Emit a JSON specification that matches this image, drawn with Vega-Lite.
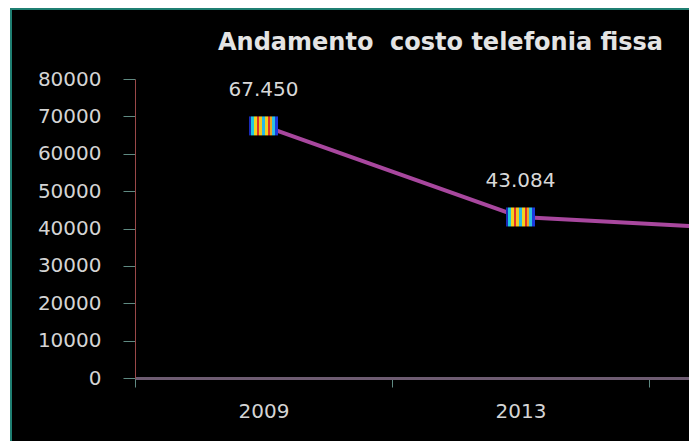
{
  "$schema": "https://vega.github.io/schema/vega-lite/v6.json",
  "autosize": {"type": "none"},
  "padding": {"left": 11, "top": 9, "right": 0, "bottom": 0},
  "width": 684,
  "height": 436,
  "background": "white",
  "title": {
    "text": "Andamento\u00a0 costo telefonia fissa",
    "anchor": "start",
    "frame": "group",
    "dx": 207,
    "offset": -65,
    "baseline": "alphabetic",
    "font": "DejaVu Sans",
    "fontSize": 24,
    "fontWeight": "bold",
    "color": "#e4e4e4"
  },
  "data": {
    "values": [
      {"anno": "2009", "costo": 67450},
      {"anno": "2013", "costo": 43084},
      {"anno": "2016", "costo": 39400}
    ]
  },
  "encoding": {
    "x": {
      "field": "anno",
      "type": "ordinal",
      "sort": null,
      "scale": {"type": "band", "range": [124, 895], "paddingInner": 0, "paddingOuter": 0},
      "axis": {
        "orient": "bottom",
        "offset": -67,
        "tickBand": "extent",
        "tickSize": 9,
        "tickColor": "#5f8a82",
        "domainColor": "#6e5c72",
        "domainWidth": 3,
        "labelPadding": 14,
        "labelAngle": 0,
        "labelFont": "DejaVu Sans",
        "labelFontSize": 20,
        "labelColor": "#d4d4d4",
        "title": null,
        "grid": false
      }
    },
    "y": {
      "field": "costo",
      "type": "quantitative",
      "scale": {"domain": [0, 80000], "range": [369, 70], "nice": false},
      "axis": {
        "orient": "left",
        "offset": -124,
        "values": [0, 10000, 20000, 30000, 40000, 50000, 60000, 70000, 80000],
        "format": "d",
        "tickSize": 12,
        "tickColor": "#5f8a82",
        "domainColor": "#9a4848",
        "domainWidth": 1,
        "labelPadding": 22,
        "labelFont": "DejaVu Sans",
        "labelFontSize": 20,
        "labelColor": "#d4d4d4",
        "title": null,
        "grid": false
      }
    }
  },
  "layer": [
    {"mark": {"type": "line", "color": "#a8479e", "strokeWidth": 4}},
    {
      "mark": {
        "type": "point",
        "shape": "M-1,-0.655L1,-0.655L1,0.655L-1,0.655Z",
        "size": 841,
        "filled": true,
        "opacity": 1,
        "strokeWidth": 0,
        "fill": {
          "gradient": "linear",
          "x1": 0, "x2": 1, "y1": 0, "y2": 0,
          "stops": [
            {"offset": 0, "color": "#1a2ab8"},
            {"offset": 0.08, "color": "#1a2ab8"},
            {"offset": 0.08, "color": "#20c8e0"},
            {"offset": 0.18, "color": "#20c8e0"},
            {"offset": 0.18, "color": "#f2d21e"},
            {"offset": 0.28, "color": "#f2d21e"},
            {"offset": 0.28, "color": "#e0302a"},
            {"offset": 0.36, "color": "#e0302a"},
            {"offset": 0.36, "color": "#f2c81e"},
            {"offset": 0.46, "color": "#f2c81e"},
            {"offset": 0.46, "color": "#28b8e8"},
            {"offset": 0.54, "color": "#28b8e8"},
            {"offset": 0.54, "color": "#f2d21e"},
            {"offset": 0.64, "color": "#f2d21e"},
            {"offset": 0.64, "color": "#e0302a"},
            {"offset": 0.72, "color": "#e0302a"},
            {"offset": 0.72, "color": "#f0a81e"},
            {"offset": 0.8, "color": "#f0a81e"},
            {"offset": 0.8, "color": "#30c0e0"},
            {"offset": 0.88, "color": "#30c0e0"},
            {"offset": 0.88, "color": "#1a3ae0"},
            {"offset": 1, "color": "#1a3ae0"}
          ]
        }
      }
    },
    {
      "mark": {
        "type": "text",
        "dy": -30,
        "baseline": "alphabetic",
        "font": "DejaVu Sans",
        "fontSize": 20,
        "color": "#d8d8d8"
      },
      "encoding": {"text": {"field": "costo", "type": "quantitative", "format": ",d"}}
    }
  ],
  "config": {
    "view": {"fill": "black", "stroke": "#1f7f72", "strokeWidth": 2},
    "locale": {"number": {"decimal": ",", "thousands": ".", "grouping": [3], "currency": ["€", ""]}}
  }
}
